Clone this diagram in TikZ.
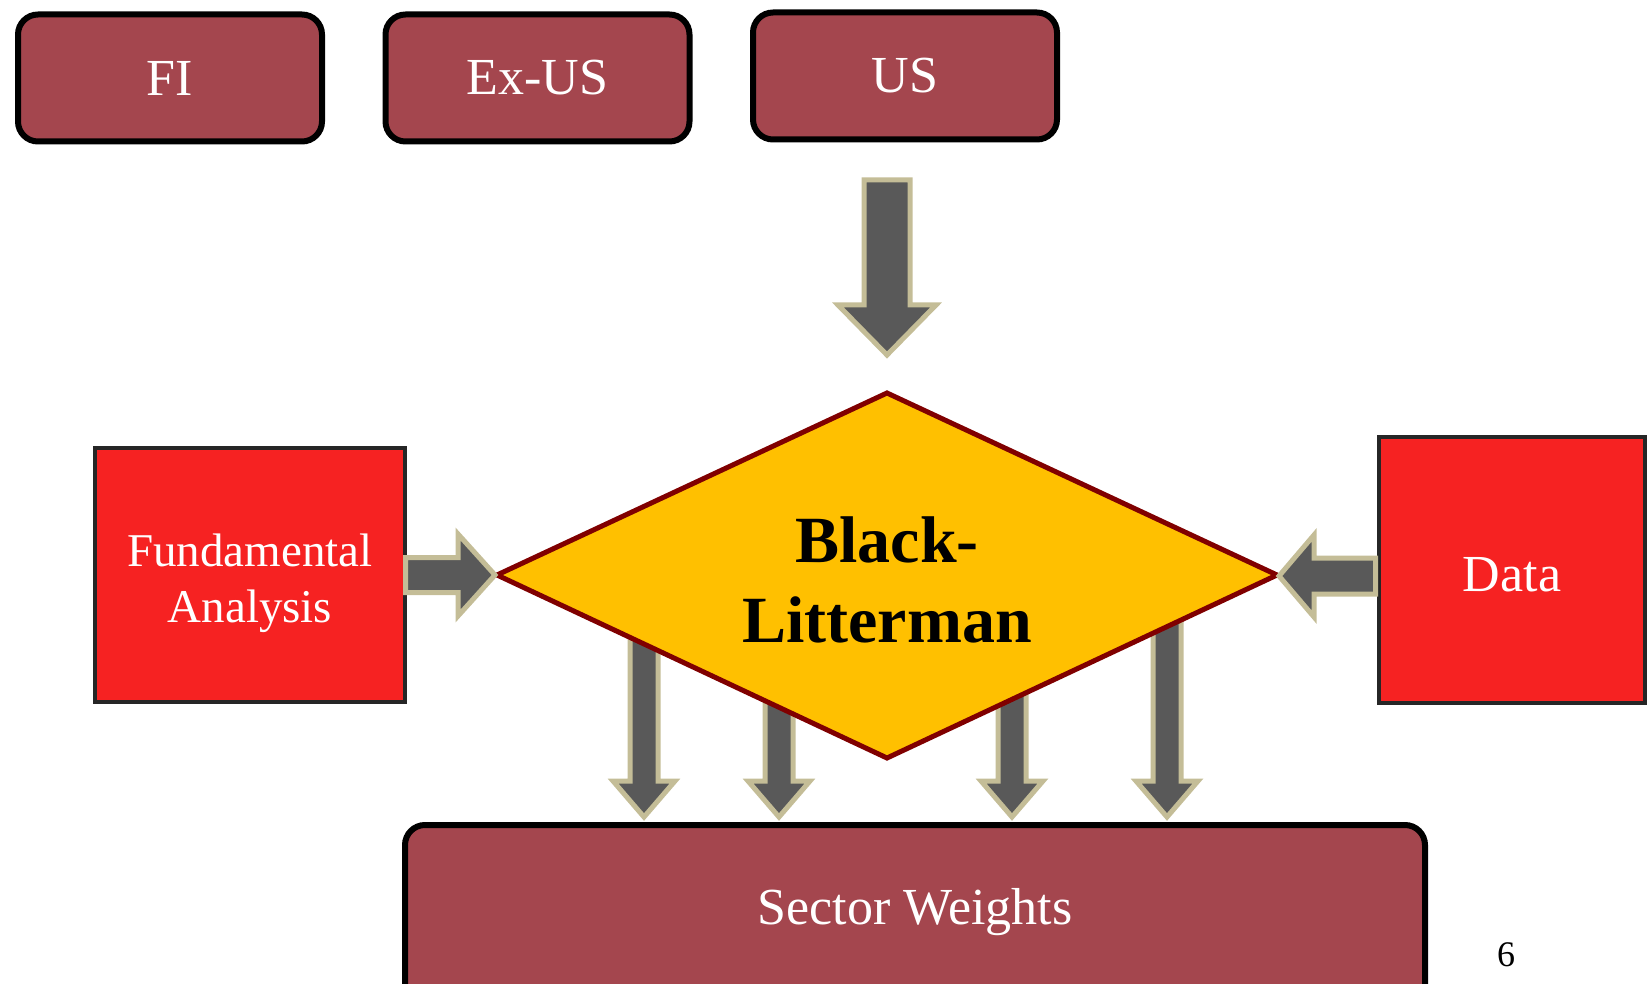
\documentclass[tikz,border=0pt]{standalone}
\usepackage{fontspec}
\setmainfont{Liberation Serif}
\definecolor{boxred}{RGB}{164,70,78}
\definecolor{brightred}{RGB}{246,34,34}
\definecolor{darkborder}{RGB}{38,38,38}
\definecolor{bldiam}{RGB}{255,192,0}
\definecolor{blborder}{RGB}{128,0,0}
\definecolor{arrowfill}{RGB}{89,89,89}
\definecolor{arrowedge}{RGB}{196,189,151}
\newcommand\downblock[6]{\filldraw[blockarrow] (#1-#5,#2) -- (#1+#5,#2) -- (#1+#5,#3) -- (#1+#6,#3) -- (#1,#4) -- (#1-#6,#3) -- (#1-#5,#3) -- cycle;}
\newcommand\sideblock[6]{\filldraw[blockarrow] (#2,#1-#5) -- (#3,#1-#5) -- (#3,#1-#6) -- (#4,#1) -- (#3,#1+#6) -- (#3,#1+#5) -- (#2,#1+#5) -- cycle;}
\begin{document}
\begin{tikzpicture}[x=1pt,y=-1pt,
  topbox/.style={draw=black, line width=6pt, fill=boxred, rounded corners=20pt,
    minimum width=304pt, minimum height=127pt, text=white, inner sep=0pt,
    font=\fontsize{52}{60}\selectfont},
  redbox/.style={draw=darkborder, line width=4pt, fill=brightred, inner sep=0pt},
  whitetext/.style={anchor=base, text=white, inner sep=0pt},
  blockarrow/.style={fill=arrowfill, draw=arrowedge, line width=5pt, line join=miter}
]
\useasboundingbox (0,0) rectangle (1650,984);
\clip (0,0) rectangle (1650,984);

% top boxes
\node[topbox] (fi) at (170,78) {FI};
\node[topbox] (exus) at (537.5,78) {Ex-US};
\node[topbox] (us) at (905,76) {US};

% arrow from top into the model
\downblock{887}{180}{305}{355}{23}{49}

% arrows down to sector weights (partly hidden by the diamond)
\downblock{644}{600}{781}{817}{14}{31}
\downblock{779}{600}{781}{817}{14}{31}
\downblock{1012}{600}{781}{817}{14}{31}
\downblock{1167}{600}{781}{817}{14}{31}

% sector weights box
\node[draw=black, line width=6pt, fill=boxred, rounded corners=20pt,
  minimum width=1020pt, minimum height=220pt, inner sep=0pt] (sw) at (915,935) {};
\node[whitetext, font=\fontsize{52}{60}\selectfont] (swlabel) at (915,924) {Sector Weights};

% Black-Litterman diamond
\coordinate (dl) at (497,575);
\coordinate (dt) at (887,393);
\coordinate (dr) at (1277,575);
\coordinate (db) at (887,758);
\filldraw[draw=blborder, line width=5pt, fill=bldiam, line join=miter] (dl) -- (dt) -- (dr) -- (db) -- cycle;
\node[anchor=base, inner sep=0pt, font=\fontsize{66}{80}\selectfont\bfseries] (bl1) at (887,562) {Black-};
\node[anchor=base, inner sep=0pt, font=\fontsize{66}{80}\selectfont\bfseries] (bl2) at (887,642) {Litterman};

% side boxes
\node[redbox, minimum width=310pt, minimum height=254pt] (fa) at (250,575) {};
\node[whitetext, font=\fontsize{47}{57}\selectfont] (fa1) at (250,566) {Fundamental};
\node[whitetext, font=\fontsize{47}{57}\selectfont] (fa2) at (250,622) {Analysis};
\node[redbox, minimum width=266pt, minimum height=266pt] (data) at (1512,570) {};
\node[whitetext, font=\fontsize{52}{60}\selectfont] (datal) at (1512,591) {Data};

% side arrows
\sideblock{575}{405.5}{458}{495}{17.5}{41}
\sideblock{576}{1375.5}{1314}{1279}{18}{41}

% page number
\node[anchor=base, font=\fontsize{36}{40}\selectfont] (pg) at (1506,966) {6};
\end{tikzpicture}
\end{document}
